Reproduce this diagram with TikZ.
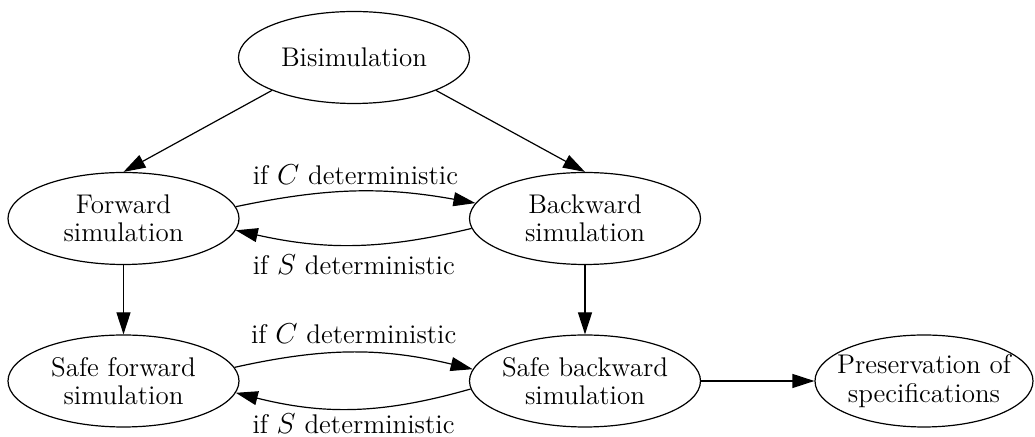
\documentclass[tikz,border=0pt]{standalone}
\usetikzlibrary{shapes.geometric,arrows.meta}
\tikzset{
  state/.style={draw, ellipse, line width=0.6pt, minimum width=115.5pt, minimum height=46pt,
    inner xsep=-10pt, inner ysep=0pt, align=center, font=\fontsize{13.5}{14.2}\selectfont},
  edge/.style={line width=0.6pt, -{Triangle[length=11pt,width=7pt]}},
  lbl/.style={font=\fontsize{13.5}{14.2}\selectfont, inner sep=0pt}
}
\begin{document}
\begin{tikzpicture}[x=0.5pt,y=-0.5pt]
\useasboundingbox (0,0) rectangle (1035,437);
\node[state] (bis) at (354,57.5) {Bisimulation};
\node[state] (fwd) at (123.5,218.5) {Forward\\simulation};
\node[state] (bwd) at (585,218.5) {Backward\\simulation};
\node[state] (sfwd) at (123.5,381) {Safe forward\\simulation};
\node[state] (sbwd) at (585,381) {Safe backward\\simulation};
\node[state, minimum width=109pt] (pres) at (924,381) {Preservation of\\specifications};

\draw[edge] (bis.south west) -- (fwd.north);
\draw[edge] (bis.south east) -- (bwd.north);
\draw[edge] (fwd.6) to[bend left=11] node[lbl, yshift=8.5pt] {if $C$ deterministic} (bwd.172);
\draw[edge] (bwd.185) to[bend left=13] node[lbl, yshift=-10pt] {if $S$ deterministic} (fwd.-6);
\draw[edge] (fwd) -- (sfwd);
\draw[edge] (bwd) -- (sbwd);
\draw[edge] (sfwd.7) to[bend left=13] node[lbl, yshift=9.5pt] {if $C$ deterministic} (sbwd.174);
\draw[edge] (sbwd.184) to[bend left=15] node[lbl, yshift=-7.3pt] {if $S$ deterministic} (sfwd.-6);
\draw[edge] (sbwd) -- (pres);
\end{tikzpicture}
\end{document}
